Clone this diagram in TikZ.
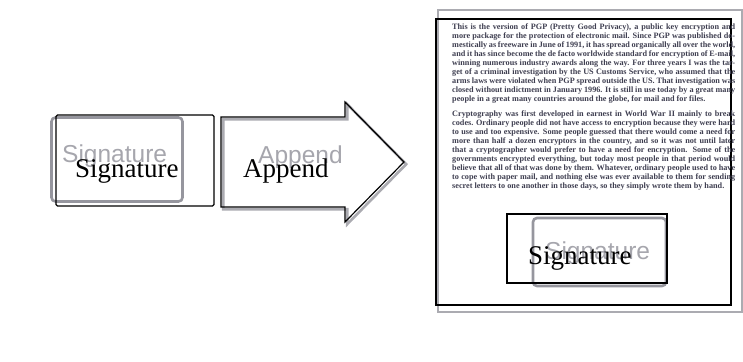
\documentclass[tikz,border=0pt]{standalone}
\usepackage{fontspec}
\setmainfont{Liberation Serif}
\newfontfamily\uisans{Liberation Sans}
\usepackage{tikz}
\usetikzlibrary{positioning}
\usepackage{xcolor}
\definecolor{inkgray}{RGB}{62,62,80}
\definecolor{uigray}{RGB}{150,150,158}

\begin{document}
\begin{tikzpicture}[
    x=1pt, y=-1pt,
    uibox/.style={rectangle, draw=uigray, line width=2.6pt, rounded corners=4pt, inner sep=0pt},
    markbox/.style={rectangle, draw=black, line width=1.2pt, rounded corners=1.5pt, inner sep=0pt},
    uitext/.style={font=\uisans\fontsize{24.5}{26}\selectfont, text=uigray!85, inner sep=0pt, anchor=base west},
    marktext/.style={font=\fontsize{27}{29}\selectfont, inner sep=0pt, anchor=base west},
    bodytext/.style={font=\bfseries\fontsize{8.2}{8.9}\selectfont, text=inkgray, text width=283pt,
      align=justify, inner sep=0pt, anchor=north west}
  ]

  \useasboundingbox (0,0) rectangle (743,361);

  %% Signature button (left)
  \node[uibox, minimum width=131pt, minimum height=84pt] (sigui) at (117,159.5) {};
  \node[uitext] (siguil) at (62,162) {Signature};
  \node[markbox, minimum width=158pt, minimum height=91pt] (sigmark) at (135,160.5) {};
  \node[marktext] (sigl) at (75,177) {Signature};

  %% Append arrow
  \def\arrowpath{(221,117) -- (345,117) -- (345,102) -- (404,162) -- (345,222) -- (345,207) -- (221,207) -- cycle}
  \draw[uigray!80, line width=2.6pt, shift={(2.2,2.2)}] \arrowpath;
  \draw[black, line width=1.2pt, line join=miter, fill=none] \arrowpath;
  \node[uitext] (appui) at (258,163) {Append};
  \node[marktext] (appl) at (243,177) {Append};

  %% Document page
  \node[rectangle, draw=uigray!80, line width=1.6pt, minimum width=304pt, minimum height=302pt] (page) at (590,161) {};
  \node[markbox, rounded corners=0pt, minimum width=295pt, minimum height=286pt] (pagemark) at (583.5,162) {};

  \node[bodytext] (para1) at (452,24) {This is the version of PGP (Pretty Good Privacy), a public key
    encryption and more package for the protection of electronic mail. Since PGP was published
    domestically as freeware in June of 1991, it has spread organically all over the world, and it
    has since become the de facto worldwide standard for encryption of E-mail, winning numerous
    industry awards along the way. For three years I was the target of a criminal investigation by
    the US Customs Service, who assumed that the arms laws were violated when PGP spread outside the
    US. That investigation was closed without indictment in January 1996. It is still in use today
    by a great many people in a great many countries around the globe, for mail and for files.};
  \node[bodytext] (para2) at (452,111) {Cryptography was first developed in earnest in World War II mainly
    to break codes. Ordinary people did not have access to encryption because they were hard to use
    and too expensive. Some people guessed that there would come a need for more than half a dozen
    encryptors in the country, and so it was not until later that a cryptographer would prefer to
    have a need for encryption. Some of the governments encrypted everything, but today most people
    in that period would believe that all of that was done by them. Whatever, ordinary people used
    to have to cope with paper mail, and nothing else was ever available to them for sending secret
    letters to one another in those days, so they simply wrote them by hand.};

  %% Signature button (on page)
  \node[uibox, minimum width=133pt, minimum height=68pt] (docui) at (599.5,252) {};
  \node[uitext] (docuil) at (545,259) {Signature};
  \node[markbox, rounded corners=0pt, minimum width=160pt, minimum height=69pt] (docmark) at (587,248.5) {};
  \node[marktext] (docl) at (528,264) {Signature};

\end{tikzpicture}
\end{document}
